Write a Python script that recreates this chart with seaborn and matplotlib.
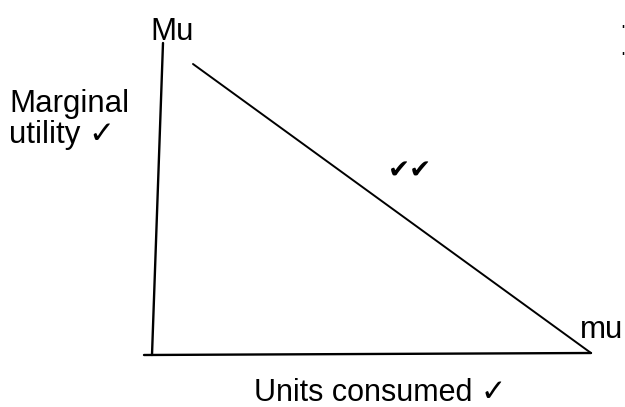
import matplotlib
matplotlib.use("Agg")
import matplotlib.pyplot as plt
import seaborn as sns
import pandas as pd

# Diagram geometry (in image pixel space)
vert_axis_x = [163, 152]
vert_axis_y = [43, 355]
horiz_axis_x = [144, 591]
horiz_axis_y = [355, 353]
mu_curve_x = [193, 591]
mu_curve_y = [64, 353]

labels = {
    "top": "Mu",
    "y_axis_1": "Marginal",
    "y_axis_2": "utility \u2713",
    "curve": "\u2714\u2714",
    "end": "mu",
    "x_axis": "Units consumed \u2713",
}

sns.set_theme(style="white")
plt.rcParams['font.family'] = ['Liberation Sans', 'DejaVu Sans']
plt.rcParams['text.color'] = 'black'

fig = plt.figure(figsize=(6.25, 4.07), dpi=100)
ax = fig.add_axes([0, 0, 1, 1])

for xs, ys, lw in [(vert_axis_x, vert_axis_y, 1.7),
                   (horiz_axis_x, horiz_axis_y, 1.7),
                   (mu_curve_x, mu_curve_y, 1.4)]:
    df = pd.DataFrame({"x": xs, "y": ys})
    sns.lineplot(data=df, x="x", y="y", sort=False, estimator=None,
                 color="black", linewidth=lw, ax=ax)

ax.set_xlim(0, 625)
ax.set_ylim(407, 0)
ax.axis("off")

fs = 22.5
ax.text(172, 40, labels["top"], fontsize=fs, ha="center", va="baseline")
ax.text(9, 112, labels["y_axis_1"], fontsize=fs, ha="left", va="baseline")
ax.text(9, 143, labels["y_axis_2"], fontsize=fs, ha="left", va="baseline")
ax.text(410, 172, labels["curve"], fontsize=19, ha="center", va="center")
ax.text(602, 338, labels["end"], fontsize=fs, ha="center", va="baseline")
ax.text(380, 401, labels["x_axis"], fontsize=22, ha="center", va="baseline")
ax.text(623, 31, "'", fontsize=9, ha="center", va="center", fontweight="bold")
ax.text(623, 58, "'", fontsize=9, ha="center", va="center", fontweight="bold")

fig.savefig("out.png", dpi=100)
